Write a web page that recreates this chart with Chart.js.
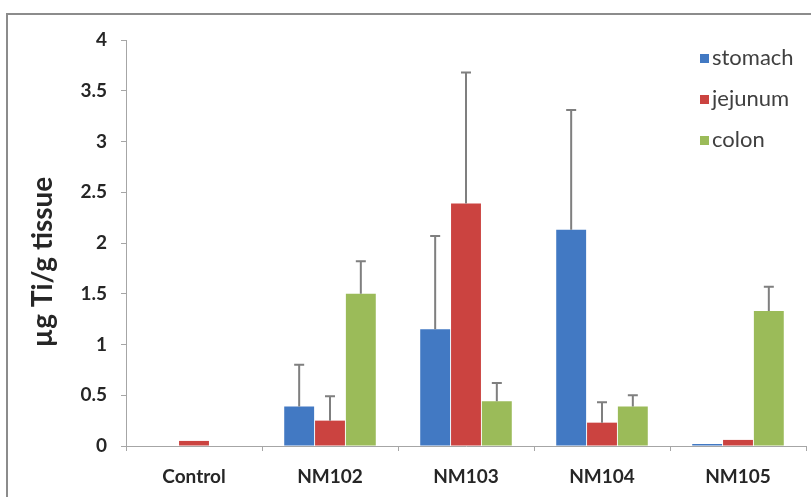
<!DOCTYPE html>
<html>
<head>
<meta charset="utf-8">
<script src="https://cdn.jsdelivr.net/npm/chart.js@4/dist/chart.umd.min.js"></script>
<style>
  html, body { margin: 0; padding: 0; background: #fff; overflow: hidden; }
  #chart { display: block; }
</style>
</head>
<body>
<canvas id="chart" width="811" height="497"></canvas>
<script>
// data
const categories = ['Control', 'NM102', 'NM103', 'NM104', 'NM105'];
const seriesNames = ['stomach', 'jejunum', 'colon'];
const stomach = [0, 0.39, 1.15, 2.13, 0.02];
const jejunum = [0.05, 0.25, 2.39, 0.23, 0.06];
const colon = [0, 1.50, 0.44, 0.39, 1.33];
// upper error (SD) for each bar
const stomachErr = [0, 0.41, 0.92, 1.18, 0];
const jejunumErr = [0, 0.24, 1.29, 0.20, 0];
const colonErr = [0, 0.32, 0.18, 0.11, 0.24];
const yTicks = [0, 0.5, 1, 1.5, 2, 2.5, 3, 3.5, 4];

const colors = ['#4279C3', '#CB4340', '#9BBB59'];
const axisColor = '#a6a6a6';
const textColor = '#262626';

// gray frame: only left and top edges are inside the picture
const framePlugin = {
  id: 'frame',
  beforeDraw(chart) {
    const ctx = chart.ctx;
    ctx.save();
    ctx.fillStyle = '#fff';
    ctx.fillRect(0, 0, chart.width, chart.height);
    ctx.strokeStyle = '#8c8c8c';
    ctx.lineWidth = 2;
    ctx.beginPath();
    ctx.moveTo(7, chart.height);
    ctx.lineTo(7, 14);
    ctx.lineTo(chart.width, 14);
    ctx.stroke();
    ctx.restore();
  }
};

// plus-only error bars, placed with the chart's own scales
const errorBarPlugin = {
  id: 'errorBars',
  afterDatasetsDraw(chart) {
    const ctx = chart.ctx;
    const y = chart.scales.y;
    ctx.save();
    ctx.strokeStyle = '#7f7f7f';
    ctx.lineWidth = 2;
    chart.data.datasets.forEach((ds, i) => {
      const meta = chart.getDatasetMeta(i);
      meta.data.forEach((bar, j) => {
        const e = ds.errUp[j];
        if (!e) return;
        const top = y.getPixelForValue(ds.data[j] + e);
        ctx.beginPath();
        ctx.moveTo(bar.x, bar.y);
        ctx.lineTo(bar.x, top);
        ctx.moveTo(bar.x - 5, top);
        ctx.lineTo(bar.x + 5, top);
        ctx.stroke();
      });
    });
    ctx.restore();
  }
};

// legend inside the plot, top right
const legendPlugin = {
  id: 'innerLegend',
  afterDraw(chart) {
    const ctx = chart.ctx;
    ctx.save();
    ctx.font = '22px Lato';
    ctx.textBaseline = 'middle';
    chart.data.datasets.forEach((ds, i) => {
      const cy = 58 + i * 41;
      ctx.fillStyle = ds.backgroundColor;
      ctx.fillRect(700, cy - 4, 9, 9);
      ctx.fillStyle = '#404040';
      ctx.fillText(ds.label, 712, cy);
    });
    ctx.restore();
  }
};

// y axis title, centred on the whole frame as in the original
const yTitlePlugin = {
  id: 'yTitle',
  afterDraw(chart) {
    const ctx = chart.ctx;
    ctx.save();
    ctx.translate(43, 262);
    ctx.rotate(-Math.PI / 2);
    ctx.font = 'bold 28px Lato';
    ctx.fillStyle = textColor;
    ctx.textAlign = 'center';
    ctx.textBaseline = 'middle';
    ctx.fillText('µg Ti/g tissue', 0, 0);
    ctx.restore();
  }
};

const datasets = [stomach, jejunum, colon].map((vals, i) => ({
  label: seriesNames[i],
  data: vals,
  errUp: [stomachErr, jejunumErr, colonErr][i],
  backgroundColor: colors[i],
  borderWidth: 0,
  barPercentage: 0.97,
  categoryPercentage: 0.68
}));

new Chart(document.getElementById('chart').getContext('2d'), {
  type: 'bar',
  data: { labels: categories, datasets: datasets },
  options: {
    responsive: false,
    animation: false,
    layout: { padding: { top: 40, right: 5, bottom: 0, left: 0 } },
    plugins: {
      legend: { display: false },
      tooltip: { enabled: false }
    },
    scales: {
      x: {
        grid: {
          display: true,
          drawOnChartArea: false,
          drawTicks: true,
          tickLength: 5,
          offset: true,
          color: axisColor
        },
        border: { color: axisColor, width: 1 },
        ticks: {
          color: textColor,
          font: { family: 'Lato', size: 19, weight: 'bold' },
          padding: 14,
          maxRotation: 0
        },
        afterFit: (s) => { s.height = 51; }
      },
      y: {
        min: 0,
        max: 4,
        afterBuildTicks: (s) => { s.ticks = yTicks.map(v => ({ value: v })); },
        grid: {
          display: true,
          drawOnChartArea: false,
          tickLength: 5,
          color: axisColor
        },
        border: { color: axisColor, width: 1 },
        ticks: {
          color: textColor,
          font: { family: 'Lato', size: 19, weight: 'bold' },
          padding: 14,
          callback: (v) => String(v)
        },
        afterFit: (s) => { s.width = 126; }
      }
    }
  },
  plugins: [framePlugin, errorBarPlugin, legendPlugin, yTitlePlugin]
});
</script>
</body>
</html>
